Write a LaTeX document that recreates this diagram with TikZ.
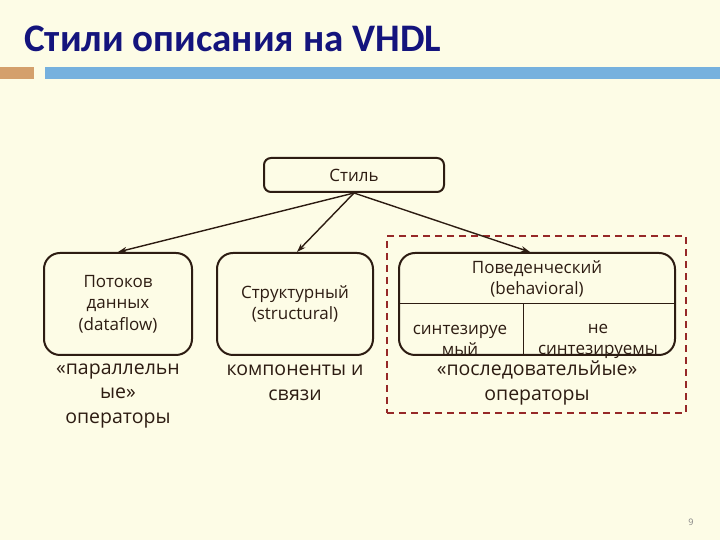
\documentclass[tikz,border=0pt]{standalone}
\usepackage{fontspec}
\setmainfont{Open Sans}
\newfontfamily\titlefont{Carlito}
\usetikzlibrary{positioning,arrows.meta,calc}
\definecolor{slidebg}{RGB}{253,252,230}
\definecolor{titlenavy}{RGB}{20,20,125}
\definecolor{barorange}{RGB}{212,160,108}
\definecolor{barblue}{RGB}{118,177,222}
\definecolor{inkbrown}{RGB}{45,28,18}
\definecolor{dashred}{RGB}{150,40,40}

\begin{document}
\begin{tikzpicture}[
  x=1pt, y=1pt,
  box/.style={draw=inkbrown, line width=2pt, rounded corners=16pt,
    align=center, text=inkbrown, font=\fontsize{17}{21.5}\selectfont,
    minimum height=102pt, inner sep=0pt},
  inbox/.style={align=center, text=inkbrown, font=\fontsize{17}{21}\selectfont},
  note/.style={align=center, text=inkbrown, font=\fontsize{19.5}{24.8}\selectfont},
  arr/.style={-{Stealth[length=9pt, width=6pt]}, line width=1.4pt, draw=inkbrown},
]
\useasboundingbox[fill=slidebg] (0,0) rectangle (720,540);

% ---- title and bars ----
\node[anchor=base west, inner sep=0pt, text=titlenavy,
  font=\titlefont\fontsize{39}{44}\selectfont\bfseries] (title) at (24,488)
  {Стили описания на VHDL};
\fill[barorange] (0,461) rectangle (34,473);
\fill[barblue] (45,461) rectangle (720,473);

% ---- root ----
\node[box, rounded corners=7pt, minimum width=180pt, minimum height=34pt]
  (root) at (354,365) {Стиль};

% ---- three styles ----
\node[box, minimum width=148pt] (flow) at (118,236)
  {Потоков\\данных\\(dataflow)};
\node[box, minimum width=156pt] (struct) at (295,236)
  {Структурный\\(structural)};
\node[box, minimum width=276pt] (behav) at (537,236) {};

% behavioral box inner split
\coordinate (split) at (523,236);
\draw[inkbrown, line width=1pt] (behav.west |- split) -- (behav.east |- split);
\draw[inkbrown, line width=1pt] (split) -- (split |- behav.south);
\node[inbox] (behavhead) at (537,261) {Поведенческий\\(behavioral)};
\node[inbox] (synth) at (460,200) {синтезируе\\мый};
\node[inbox] (nosynth) at (598,199) {не\\синтезируемы};

% ---- notes under the boxes ----
\node[note] (flownote) at (118,144) {«параллельн\\ые»\\операторы};
\node[note] (structnote) at (295,157) {компоненты и\\связи};
\node[note] (behavnote) at (537,157) {«последовательйые»\\операторы};

% dashed frame round the behavioral part
\node[draw=dashred, dashed, line width=1.6pt, dash pattern=on 7pt off 5pt,
  minimum width=299pt, minimum height=177pt, inner sep=0pt]
  (frame) at (536.5,215.5) {};

% ---- arrows ----
\draw[arr] (root.south) -- (flow.north);
\draw[arr] (root.south) -- ($(struct.north)+(2,0)$);
\draw[arr] (root.south) -- ($(behav.north)+(-7,0)$);

% page number
\node[text=gray, font=\fontsize{9}{10}\selectfont] (pagenum) at (691,18) {9};
\end{tikzpicture}
\end{document}
